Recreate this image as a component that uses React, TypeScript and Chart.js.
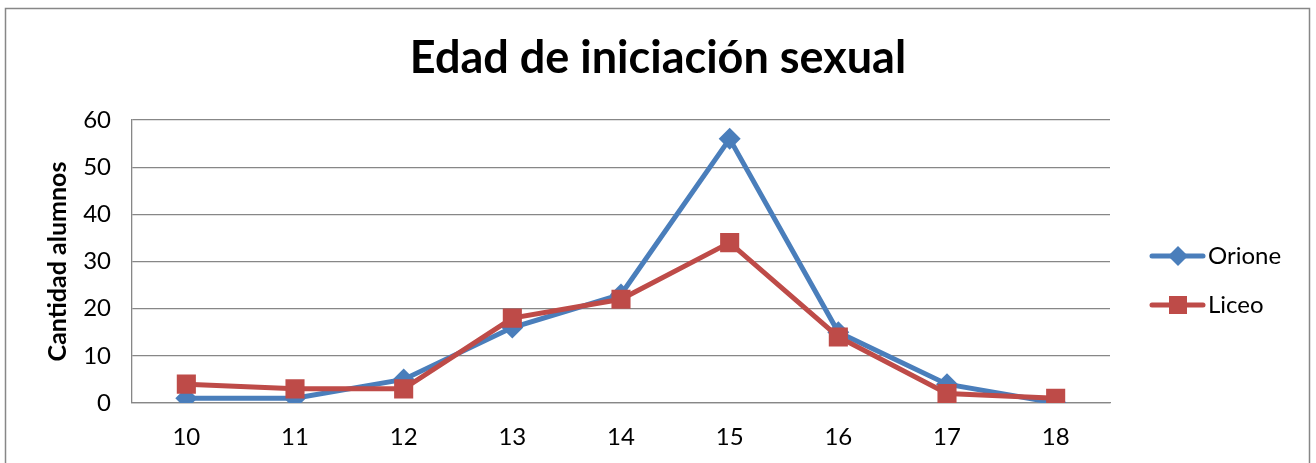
import React, { useEffect, useRef } from "react";
import { Chart, registerables } from "chart.js";

Chart.register(...registerables);

const TITLE = "Edad de iniciación sexual";
const Y_TITLE = "Cantidad alumnos";
const categories = ["10", "11", "12", "13", "14", "15", "16", "17", "18"];
const orione = [1, 1, 5, 16, 23, 56, 15, 4, 0];
const liceo = [4, 3, 3, 18, 22, 34, 14, 2, 1];
const seriesNames = ["Orione", "Liceo"];
const BLUE = "#4a7ebb";
const RED = "#be4b48";
const FONT = "Lato";

const framePlugin = {
  id: "frame",
  beforeDraw(chart: any) {
    const ctx = chart.ctx;
    ctx.save();
    ctx.fillStyle = "#ffffff";
    ctx.fillRect(0, 0, chart.width, chart.height);
    ctx.strokeStyle = "#878787";
    ctx.lineWidth = 1.5;
    ctx.strokeRect(5.5, 8.5, 1304, 500);
    ctx.fillStyle = "#000000";
    ctx.font = `bold 45px ${FONT}`;
    ctx.textAlign = "center";
    ctx.textBaseline = "middle";
    ctx.fillText(TITLE, 658, 58);
    ctx.restore();
  },
};

const legendPlugin = {
  id: "sideLegend",
  afterDraw(chart: any) {
    const ctx = chart.ctx;
    ctx.save();
    chart.data.datasets.forEach((ds: any, i: number) => {
      const y = 256 + i * 49;
      ctx.strokeStyle = ds.borderColor;
      ctx.lineWidth = 5;
      ctx.lineCap = "round";
      ctx.beginPath();
      ctx.moveTo(1152, y);
      ctx.lineTo(1203, y);
      ctx.stroke();
      ctx.fillStyle = ds.pointBackgroundColor;
      if (ds.pointStyle === "rectRot") {
        const r = 10;
        ctx.beginPath();
        ctx.moveTo(1178, y - r);
        ctx.lineTo(1178 + r, y);
        ctx.lineTo(1178, y + r);
        ctx.lineTo(1178 - r, y);
        ctx.closePath();
        ctx.fill();
      } else {
        const s = 18;
        ctx.fillRect(1178 - s / 2, y - s / 2, s, s);
      }
      ctx.fillStyle = "#000000";
      ctx.font = `24px ${FONT}`;
      ctx.textBaseline = "middle";
      ctx.textAlign = "left";
      ctx.fillText(ds.label, 1208, y);
    });
    ctx.restore();
  },
};

export default function App() {
  const ref = useRef<HTMLCanvasElement | null>(null);
  useEffect(() => {
    if (!ref.current) return;
    const chart = new Chart(ref.current, {
      type: "line",
      data: {
        labels: categories,
        datasets: [
          {
            label: seriesNames[0],
            data: orione,
            borderColor: BLUE,
            backgroundColor: BLUE,
            pointBackgroundColor: BLUE,
            pointBorderColor: BLUE,
            pointStyle: "rectRot",
            pointRadius: 11,
            pointBorderWidth: 0,
            borderWidth: 5,
            tension: 0,
            order: 1,
          },
          {
            label: seriesNames[1],
            data: liceo,
            borderColor: RED,
            backgroundColor: RED,
            pointBackgroundColor: RED,
            pointBorderColor: RED,
            pointStyle: "rect",
            pointRadius: 13.5,
            pointBorderWidth: 0,
            borderWidth: 5,
            tension: 0,
            order: 0,
          },
        ],
      },
      options: {
        responsive: false,
        animation: false,
        events: [],
        layout: { padding: { left: 0, right: 206, top: 120, bottom: 0 } },
        plugins: {
          legend: { display: false },
          tooltip: { enabled: false },
          title: { display: false },
        },
        scales: {
          x: {
            offset: true,
            grid: { display: false, drawTicks: false },
            border: { display: true, color: "#878787", width: 1.3 },
            ticks: {
              color: "#000000",
              font: { family: FONT, size: 24 },
              padding: 20,
              maxRotation: 0,
            },
            afterFit: (s: any) => {
              s.height = 60;
            },
          },
          y: {
            min: 0,
            max: 60,
            grid: { color: "#878787", lineWidth: 1.3, drawTicks: false },
            border: { display: true, color: "#878787", width: 1.3 },
            ticks: {
              stepSize: 10,
              color: "#000000",
              font: { family: FONT, size: 24 },
              padding: 21,
            },
            title: {
              display: true,
              text: Y_TITLE,
              color: "#000000",
              font: { family: FONT, size: 25, weight: "bold", lineHeight: 1.2 },
              padding: { top: 43, bottom: 0 },
            },
            afterFit: (s: any) => {
              s.width = 132;
            },
          },
        },
      },
      plugins: [framePlugin, legendPlugin],
    });
    return () => chart.destroy();
  }, []);
  return (
    <div style={{ position: "absolute", left: 0, top: 0, width: 1316, height: 463 }}>
      <canvas ref={ref} width={1316} height={463} style={{ display: "block" }} />
    </div>
  );
}
